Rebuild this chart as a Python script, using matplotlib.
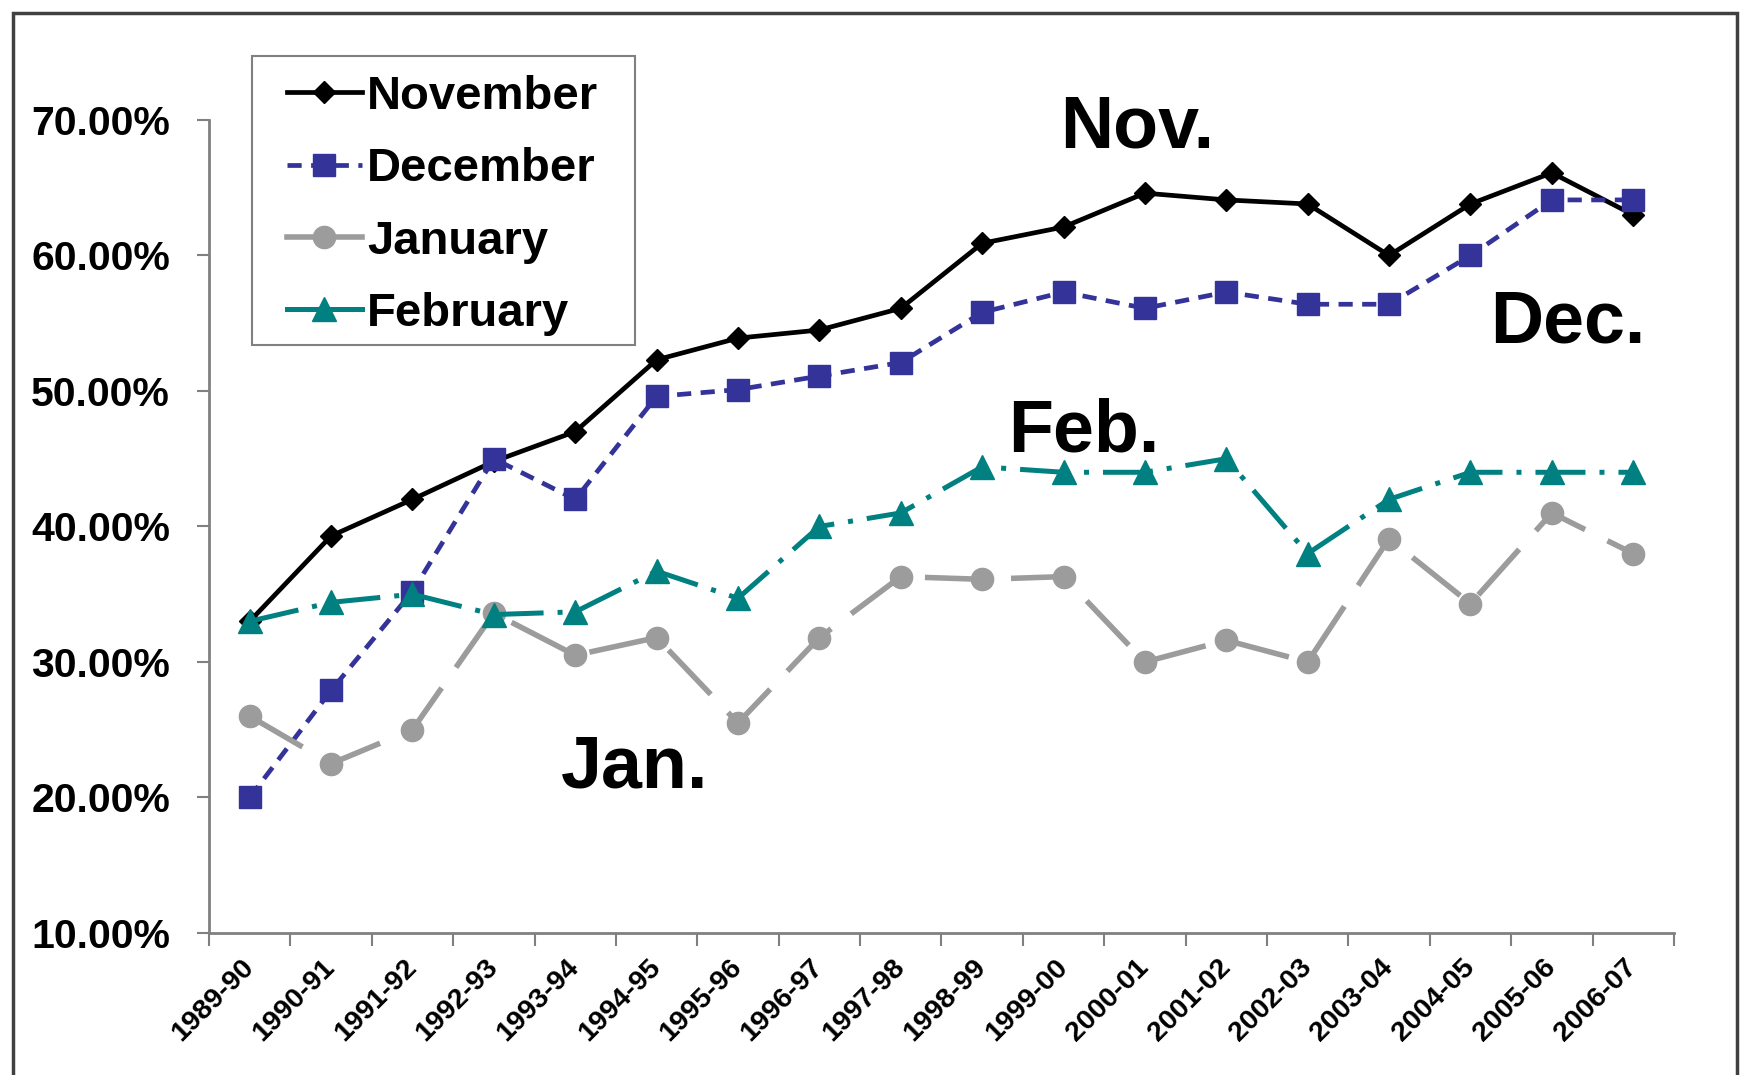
"""Share of students by month of first enrolment, 1989-90 to 2006-07."""

import matplotlib
matplotlib.use("Agg")
import matplotlib.pyplot as plt
from matplotlib.lines import Line2D
from matplotlib.patches import Rectangle
from matplotlib.ticker import FixedLocator, FuncFormatter

# Data (percent).
years = ["1989-90", "1990-91", "1991-92", "1992-93", "1993-94", "1994-95",
         "1995-96", "1996-97", "1997-98", "1998-99", "1999-00", "2000-01",
         "2001-02", "2002-03", "2003-04", "2004-05", "2005-06", "2006-07"]
november = [33.0, 39.3, 42.0, 44.8, 47.0, 52.3, 53.9, 54.5, 56.1, 60.9,
            62.1, 64.6, 64.1, 63.8, 60.0, 63.8, 66.1, 63.0]
december = [20.0, 27.9, 35.2, 45.0, 42.0, 49.6, 50.1, 51.1, 52.1, 55.8,
            57.3, 56.1, 57.3, 56.4, 56.4, 60.0, 64.1, 64.1]
january = [26.0, 22.5, 25.0, 33.6, 30.5, 31.8, 25.5, 31.8, 36.3, 36.1,
           36.3, 30.0, 31.6, 30.0, 39.1, 34.3, 41.0, 38.0]
february = [33.0, 34.4, 35.0, 33.5, 33.7, 36.7, 34.7, 40.0, 41.0, 44.4,
            44.0, 44.0, 45.0, 38.0, 42.0, 44.0, 44.0, 44.0]

plt.rcParams["font.family"] = ["Liberation Sans", "DejaVu Sans"]
plt.rcParams["font.weight"] = "bold"

fig = plt.figure(figsize=(17.46, 10.75), dpi=100)
ax = fig.add_axes([0.1197, 0.1321, 0.8390, 0.7563])

x = list(range(len(years)))

# Producing the four lines.
ax.plot(x, november, color="black", lw=3.4, marker="D", markersize=11,
        clip_on=False)
ax.plot(x, december, color="#333399", lw=3.4, marker="s", markersize=16,
        dashes=(3, 2), clip_on=False)
ax.plot(x, january, color="#9C9C9C", lw=4.0, marker="o", markersize=16,
        dashes=(11, 4.5), clip_on=False)
ax.plot(x, february, color="#008080", lw=3.6, marker="^", markersize=17,
        dashes=(10, 2.8, 1, 2.8), clip_on=False)

# Axes styling.
ax.set_xlim(-0.5, len(years) - 0.5)
ax.set_ylim(10, 70)
ax.set_yticks([10, 20, 30, 40, 50, 60, 70])
ax.yaxis.set_major_formatter(FuncFormatter(lambda v, p: "%.2f%%" % v))
ax.tick_params(axis="y", labelsize=29.5, length=9, width=1.5,
               color="#808080", pad=19)
ax.set_xticks(x)
ax.set_xticklabels(years, rotation=45, ha="right", va="center",
                   rotation_mode="anchor")
ax.tick_params(axis="x", which="major", length=0, labelsize=20.5, pad=22)
ax.xaxis.set_minor_locator(FixedLocator([i - 0.5 for i in range(len(years) + 1)]))
ax.tick_params(axis="x", which="minor", length=9, width=1.5, color="#808080")
for side in ["top", "right"]:
    ax.spines[side].set_visible(False)
for side in ["left", "bottom"]:
    ax.spines[side].set_color("#808080")
    ax.spines[side].set_linewidth(2)

# Legend with the handles drawn as in the original.
handles = [
    Line2D([], [], color="black", lw=3.4, marker="D", markersize=11),
    Line2D([], [], color="#333399", lw=3.4, marker="s", markersize=16,
           dashes=(3, 2)),
    Line2D([], [], color="#9C9C9C", lw=4.0, marker="o", markersize=16),
    Line2D([], [], color="#008080", lw=3.6, marker="^", markersize=17),
]
ax.legend(handles, ["November", "December", "January", "February"],
          loc="upper left", bbox_to_anchor=(0.0532, 1.0555),
          borderaxespad=0, fontsize=34, handlelength=1.58,
          handletextpad=0.12, labelspacing=0.6, borderpad=0,
          frameon=False)

# Legend frame drawn separately so the padding matches.
ax.add_patch(Rectangle((0.0294, 0.7232), 0.2614, 0.3555,
                       transform=ax.transAxes, fill=False, clip_on=False,
                       edgecolor="#808080", lw=1.5))

# Month labels next to the lines.
ax.text(10.9, 69.4, "Nov.", fontsize=53, ha="center", va="center")
ax.text(16.2, 55.0, "Dec.", fontsize=53, ha="center", va="center")
ax.text(10.25, 47.0, "Feb.", fontsize=53, ha="center", va="center")
ax.text(4.73, 22.2, "Jan.", fontsize=53, ha="center", va="center")

# Outer frame around the figure.
fig.patches.append(Rectangle((0.0075, -0.1), 0.9875, 1.088,
                             transform=fig.transFigure, fill=False,
                             edgecolor="#404040", lw=2.5))

plt.savefig("out.png", dpi=100)
